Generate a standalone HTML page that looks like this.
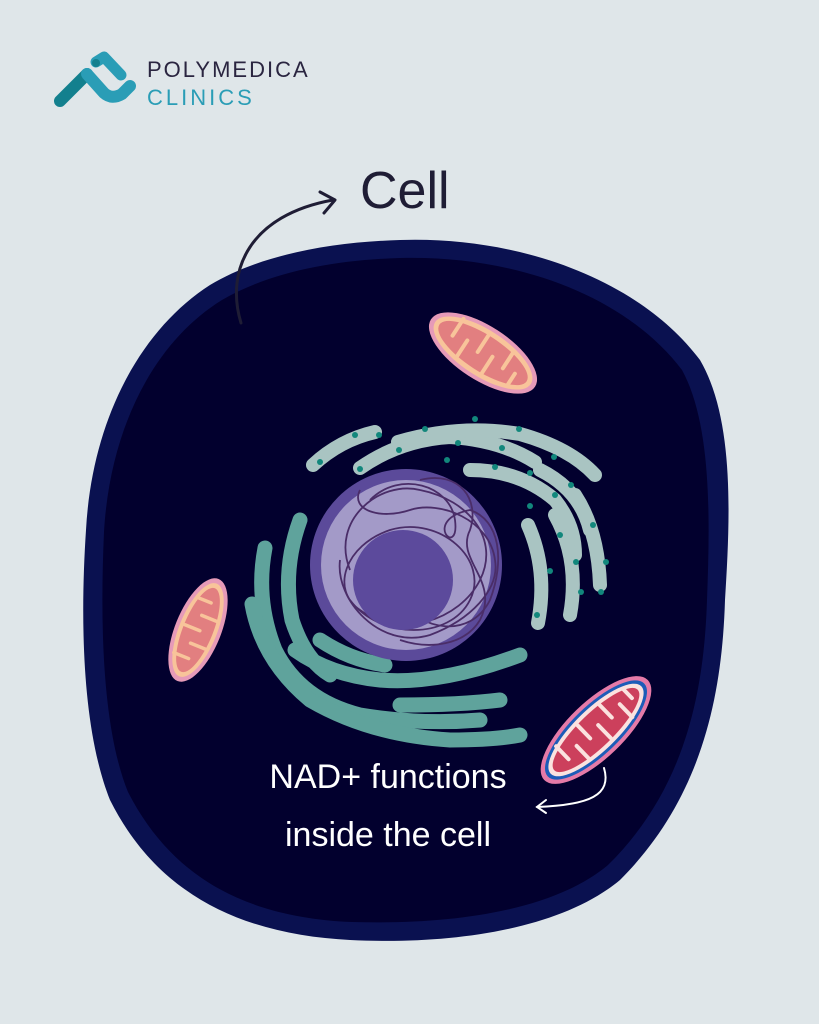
<!DOCTYPE html>
<html><head><meta charset="utf-8"><style>
html,body{margin:0;padding:0;background:#dfe6e9}
svg{display:block}
</style></head><body>
<svg width="819" height="1024" viewBox="0 0 819 1024" xmlns="http://www.w3.org/2000/svg">
<rect width="819" height="1024" fill="#dfe6e9"/>
<!-- logo -->
<g stroke-linecap="round" stroke-linejoin="round" fill="none">
<path d="M60 101 L87 74" stroke="#13808e" stroke-width="12"/>
<path d="M87 74 L104 93 Q112 100 122 94 L130 86" stroke="#2a9db6" stroke-width="12"/>
<path d="M96 62 L104 57 L121 75" stroke="#2a9db6" stroke-width="11"/>
<circle cx="96" cy="63" r="4" fill="#13808e" stroke="none"/>
</g>
<text x="147" y="77" font-family="Liberation Sans, sans-serif" font-size="22" letter-spacing="2" fill="#2a2540">POLYMEDICA</text>
<text x="147" y="105" font-family="Liberation Sans, sans-serif" font-size="22" letter-spacing="3" fill="#2a9db6">CLINICS</text>
<!-- cell -->
<path d="M400 240 C520 236 640 280 700 360 C735 420 730 520 725 600 C722 700 700 800 620 880 C560 930 450 945 350 940 C250 935 160 900 110 800 C82 730 80 620 86 530 C92 420 140 330 210 285 C260 255 330 242 400 240 Z" fill="#0a1150"/>
<path d="M400 258 C515 255 625 295 682 370 C712 425 710 520 707 600 C704 695 684 790 608 865 C552 912 448 925 352 922 C258 918 176 886 128 792 C102 728 100 622 104 532 C110 428 154 342 222 300 C270 272 334 260 400 258 Z" fill="#02002e"/>
<!-- rough ER -->
<g stroke="#a9c4c2" stroke-linecap="round" fill="none" stroke-width="14">
<path d="M313 465 Q340 440 375 432"/>
<path d="M360 468 Q400 440 450 437 Q500 440 535 462"/>
<path d="M398 442 Q460 424 520 434 Q570 448 595 475"/>
<path d="M470 470 Q520 470 555 500 Q575 525 575 555"/>
<path d="M540 470 Q580 490 590 530"/>
<path d="M575 495 Q598 530 600 585"/>
<path d="M555 515 Q580 560 570 615"/>
<path d="M528 525 Q548 570 538 623"/>
</g>
<g fill="#12877c">
<circle cx="355" cy="435" r="3"/><circle cx="379" cy="435" r="3"/><circle cx="320" cy="462" r="3"/><circle cx="360" cy="469" r="3"/>
<circle cx="399" cy="450" r="3"/><circle cx="425" cy="429" r="3"/><circle cx="458" cy="443" r="3"/><circle cx="447" cy="460" r="3"/>
<circle cx="495" cy="467" r="3"/><circle cx="502" cy="448" r="3"/><circle cx="475" cy="419" r="3"/><circle cx="519" cy="429" r="3"/>
<circle cx="554" cy="457" r="3"/><circle cx="530" cy="473" r="3"/><circle cx="571" cy="485" r="3"/><circle cx="555" cy="495" r="3"/>
<circle cx="530" cy="506" r="3"/><circle cx="560" cy="535" r="3"/><circle cx="576" cy="562" r="3"/><circle cx="593" cy="525" r="3"/>
<circle cx="550" cy="571" r="3"/><circle cx="537" cy="615" r="3"/><circle cx="601" cy="592" r="3"/><circle cx="581" cy="592" r="3"/><circle cx="606" cy="562" r="3"/>
</g>
<!-- smooth ER -->
<g stroke="#5fa39c" stroke-linecap="round" fill="none" stroke-width="15">
<path d="M300 520 Q282 570 292 620 Q305 660 330 675"/>
<path d="M265 548 Q255 600 275 650 Q300 700 360 715 Q420 725 480 720"/>
<path d="M252 604 Q262 660 310 700 Q370 735 450 740 Q495 740 520 735"/>
<path d="M295 650 Q330 675 380 680 Q440 685 520 655"/>
<path d="M320 640 Q350 660 385 665"/>
<path d="M400 705 Q460 705 500 700"/>
</g>
<!-- nucleus -->
<circle cx="406" cy="565" r="96" fill="#5b4a9a"/>
<circle cx="406" cy="565" r="85" fill="#a39ac8"/>
<g fill="none" stroke="#4a2d68" stroke-width="1.8">
<path d="M350 570 C330 520 380 480 420 490 C470 500 500 540 480 580 C460 620 400 640 360 610 C330 590 345 545 390 530 C440 515 490 560 470 600 C450 640 380 640 350 600"/>
<path d="M370 500 C400 470 450 485 455 520 C460 560 420 520 470 510 C500 520 505 560 490 600 C470 640 420 630 400 600"/>
<path d="M340 560 C335 600 380 650 430 635 C470 620 500 590 495 560 C490 520 440 500 410 510 C380 520 350 510 360 490"/>
<path d="M420 480 C460 470 480 500 470 530 C455 560 500 580 480 620 C465 645 430 650 400 640"/>
</g>
<circle cx="403" cy="580" r="50" fill="#5c4a9c"/>
<!-- mitochondria -->
<g transform="translate(483,353) rotate(33)">
<ellipse rx="62" ry="27" fill="#e69ab8"/><ellipse rx="57" ry="23" fill="#f8c49a"/><ellipse rx="52" ry="18" fill="#e27f80"/>
<g stroke="#f8c49a" stroke-width="4" stroke-linecap="round"><path d="M-35 -18 V2 M-20 18 V-2 M-5 -18 V2 M10 18 V-2 M25 -18 V2 M38 14 V0"/></g>
</g>
<g transform="translate(198,630) rotate(-68)">
<ellipse rx="55" ry="23" fill="#e69ab8"/><ellipse rx="50" ry="19" fill="#f8c49a"/><ellipse rx="45" ry="15" fill="#e27f80"/>
<g stroke="#f8c49a" stroke-width="3.5" stroke-linecap="round"><path d="M-30 -14 V2 M-15 14 V-2 M0 -14 V2 M15 14 V-2 M30 -12 V2"/></g>
</g>
<g transform="translate(596,730) rotate(-44)">
<ellipse rx="72" ry="28" fill="#e57aa8"/><ellipse rx="67" ry="24" fill="#1d5cb8"/><ellipse rx="63" ry="21" fill="#fbe2df"/><ellipse rx="58" ry="17" fill="#cc405c"/>
<g stroke="#fbe2df" stroke-width="4" stroke-linecap="round"><path d="M-40 -16 V2 M-25 16 V-2 M-10 -16 V2 M5 16 V-2 M20 -16 V2 M35 16 V-2 M48 -10 V2"/></g>
</g>
<!-- arrows -->
<path d="M241 323 C225 270 250 215 333 200" fill="none" stroke="#1f1d35" stroke-width="3" stroke-linecap="round"/>
<path d="M320 192 L335 200 L324 213" fill="none" stroke="#1f1d35" stroke-width="3" stroke-linecap="round" stroke-linejoin="round"/>
<text x="360" y="208" font-family="Liberation Sans, sans-serif" font-size="52" fill="#1f1d35">Cell</text>
<path d="M604 768 C612 795 590 805 537 807" fill="none" stroke="#ffffff" stroke-width="2" stroke-linecap="round"/>
<path d="M546 800 L537 807 L546 813" fill="none" stroke="#ffffff" stroke-width="2" stroke-linecap="round"/>
<text x="388" y="788" text-anchor="middle" font-family="Liberation Sans, sans-serif" font-size="34" fill="#ffffff">NAD+ functions</text>
<text x="388" y="846" text-anchor="middle" font-family="Liberation Sans, sans-serif" font-size="34" fill="#ffffff">inside the cell</text>
</svg>
</body></html>
